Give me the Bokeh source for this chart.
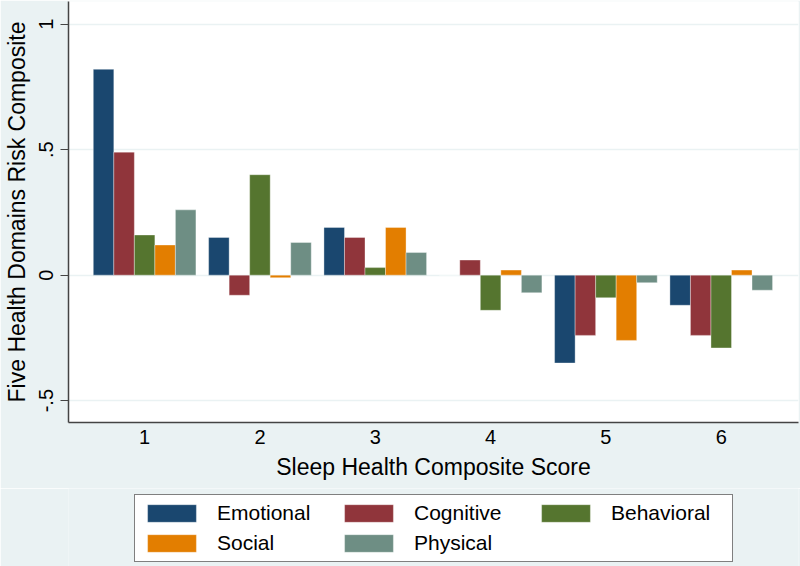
from bokeh.plotting import figure
from bokeh.models import Range1d, FixedTicker, Legend, LegendItem, ColumnDataSource
from bokeh.layouts import column
from bokeh.embed import file_html
from bokeh.resources import INLINE

# ---- data ----
scores = [1, 2, 3, 4, 5, 6]
score_labels = ["1", "2", "3", "4", "5", "6"]
emotional = [0.82, 0.15, 0.19, 0.0, -0.35, -0.12]
cognitive = [0.49, -0.08, 0.15, 0.06, -0.24, -0.24]
behavioral = [0.16, 0.40, 0.03, -0.14, -0.09, -0.29]
social = [0.12, -0.01, 0.19, 0.02, -0.26, 0.02]
physical = [0.26, 0.13, 0.09, -0.07, -0.03, -0.06]
series_names = ["Emotional", "Cognitive", "Behavioral", "Social", "Physical"]
series_values = [emotional, cognitive, behavioral, social, physical]
colors = ["#1a476f", "#90353b", "#55752f", "#e37e00", "#6e8e84"]
y_ticks = [-0.5, 0, 0.5, 1]
y_tick_labels = ["-.5", "0", ".5", "1"]

FONT = "Liberation Sans"
BG = "#eaf2f3"
AX = "#444444"

p = figure(width=800, height=488, output_backend="svg", toolbar_location=None,
           x_range=Range1d(0.34, 6.67), y_range=Range1d(-0.587, 1.09),
           min_border_left=68, min_border_right=2, min_border_top=1,
           min_border_bottom=66)
p.background_fill_color = "white"
p.border_fill_color = BG
p.outline_line_color = None

bar_w = 0.178
sources = []
for i, (name, vals, col) in enumerate(zip(series_names, series_values, colors)):
    off = (i - 2) * bar_w
    src = ColumnDataSource(dict(x=[s + off for s in scores], top=vals,
                                bottom=[0] * len(vals)))
    sources.append(src)
    p.vbar(x="x", top="top", bottom="bottom", width=bar_w, source=src,
           fill_color=col, line_color="white", line_alpha=0.35, line_width=1)

# grids
p.xgrid.visible = False
p.ygrid.ticker = FixedTicker(ticks=y_ticks)
p.ygrid.grid_line_color = BG
p.ygrid.grid_line_width = 1.5

# y axis
ya = p.yaxis[0]
ya.ticker = FixedTicker(ticks=y_ticks)
ya.major_label_overrides = {t: l for t, l in zip(y_ticks, y_tick_labels)}
ya.major_label_orientation = "vertical"
ya.major_label_text_font = FONT
ya.major_label_text_font_size = "20px"
ya.major_label_text_color = "black"
ya.major_label_standoff = 7
ya.major_tick_out = 8
ya.major_tick_in = 0
ya.minor_tick_out = 0
ya.minor_tick_in = 0
ya.major_tick_line_color = AX
ya.axis_line_color = AX
ya.axis_line_width = 1.5
ya.axis_label = "Five Health Domains Risk Composite"
ya.axis_label_text_font = FONT
ya.axis_label_text_font_size = "23px"
ya.axis_label_text_font_style = "normal"
ya.axis_label_text_color = "black"
ya.axis_label_standoff = 7

# x axis
xa = p.xaxis[0]
xa.ticker = FixedTicker(ticks=scores)
xa.major_label_overrides = {s: l for s, l in zip(scores, score_labels)}
xa.major_label_text_font = FONT
xa.major_label_text_font_size = "20px"
xa.major_label_text_color = "black"
xa.major_label_standoff = 7
xa.major_tick_out = 0
xa.major_tick_in = 0
xa.minor_tick_out = 0
xa.minor_tick_in = 0
xa.axis_line_color = AX
xa.axis_line_width = 1.5
xa.axis_label = "Sleep Health Composite Score"
xa.axis_label_text_font = FONT
xa.axis_label_text_font_size = "23px"
xa.axis_label_text_font_style = "normal"
xa.axis_label_text_color = "black"
xa.axis_label_standoff = 7

# ---- legend strip (same data, ranges chosen so the bars stay off-view) ----
pl = figure(width=800, height=78, output_backend="svg", toolbar_location=None,
            x_range=Range1d(100, 101), y_range=Range1d(100, 101),
            min_border_left=0, min_border_right=0, min_border_top=0,
            min_border_bottom=0)
pl.axis.visible = False
pl.grid.visible = False
pl.background_fill_color = BG
pl.border_fill_color = BG
pl.outline_line_color = None

items = []
for name, col, src in zip(series_names, colors, sources):
    r = pl.vbar(x="x", top="top", bottom="bottom", width=bar_w, source=src,
                fill_color=col, line_color="white", line_alpha=0.35, line_width=1)
    items.append(LegendItem(label=name, renderers=[r]))

legend = Legend(items=items, orientation="horizontal", ncols=3,
                location=(66, 4), margin=0, padding=6, spacing=6,
                glyph_width=61, glyph_height=22, label_height=22,
                label_width=115, label_standoff=15,
                label_text_font=FONT, label_text_font_size="21px",
                label_text_color="black",
                border_line_color="black", border_line_width=1,
                background_fill_color="white", background_fill_alpha=1)
pl.add_layout(legend, "center")

layout = column(p, pl, spacing=0)
open("out.html", "w").write(file_html(layout, INLINE))
